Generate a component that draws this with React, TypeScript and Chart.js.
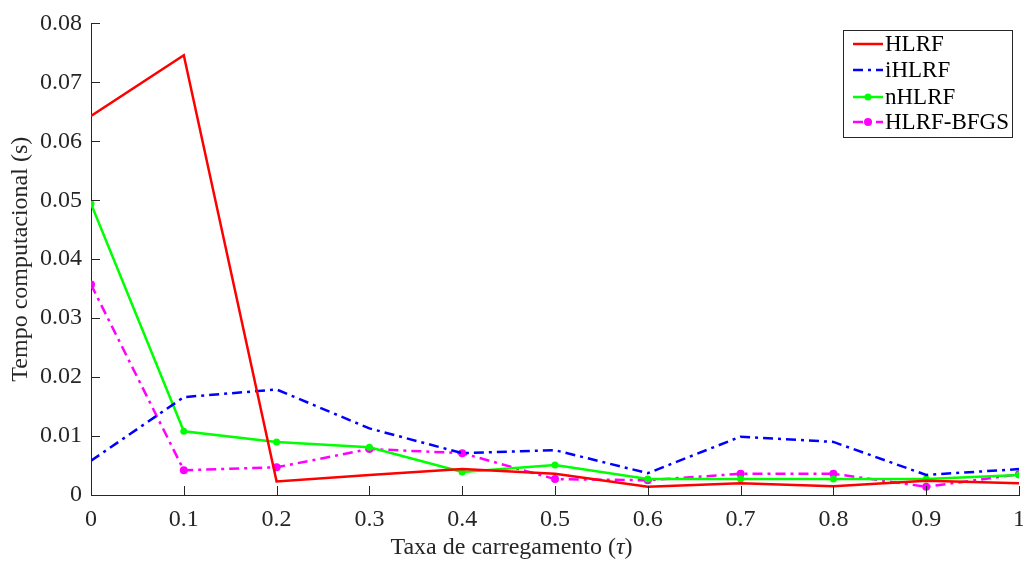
import React, { useEffect, useRef } from "react";
import { Chart, registerables } from "chart.js";

Chart.register(...registerables);

const tau = [0, 0.1, 0.2, 0.3, 0.4, 0.5, 0.6, 0.7, 0.8, 0.9, 1];
const hlrf = [0.0643, 0.0746, 0.0023, 0.0034, 0.0044, 0.0036, 0.0014, 0.002, 0.0015, 0.0024, 0.002];
const ihlrf = [0.0058, 0.0166, 0.0179, 0.0113, 0.0071, 0.0076, 0.0037, 0.0099, 0.009, 0.0034, 0.0044];
const nhlrf = [0.0494, 0.0108, 0.009, 0.0081, 0.0039, 0.0051, 0.0027, 0.0027, 0.0027, 0.0027, 0.0034];
const bfgs = [0.0357, 0.0042, 0.0047, 0.0078, 0.0071, 0.0027, 0.0025, 0.0036, 0.0036, 0.0014, 0.0035];
const xTicks = [0, 0.1, 0.2, 0.3, 0.4, 0.5, 0.6, 0.7, 0.8, 0.9, 1];
const yTicks = [0, 0.01, 0.02, 0.03, 0.04, 0.05, 0.06, 0.07, 0.08];
const seriesNames = ["HLRF", "iHLRF", "nHLRF", "HLRF-BFGS"];
const xTitleParts = ["Taxa de carregamento (", "τ", ")"];
const yTitle = "Tempo computacional (s)";

const FONT = "'Liberation Serif', 'Times New Roman', serif";
const AX = "#262626";
const DASHDOT = [10, 5, 3, 5];

const toPts = (ys: number[]) => tau.map((x, i) => ({ x, y: ys[i] }));

const tickPlugin = {
  id: "inTicks",
  afterDraw(chart: any) {
    const { ctx, chartArea, scales } = chart;
    ctx.save();
    ctx.strokeStyle = AX;
    ctx.lineWidth = 1;
    ctx.beginPath();
    xTicks.forEach((v) => {
      const px = Math.round(scales.x.getPixelForValue(v)) + 0.5;
      ctx.moveTo(px, chartArea.bottom);
      ctx.lineTo(px, chartArea.bottom - 9);
    });
    yTicks.forEach((v) => {
      const py = Math.round(scales.y.getPixelForValue(v)) + 0.5;
      ctx.moveTo(chartArea.left, py);
      ctx.lineTo(chartArea.left + 9, py);
    });
    ctx.stroke();

    // x title with italic tau
    const y = 548;
    ctx.fillStyle = AX;
    ctx.textBaseline = "middle";
    ctx.textAlign = "left";
    const normal = `24px ${FONT}`;
    const italic = `italic 24px ${FONT}`;
    ctx.font = normal;
    const w0 = ctx.measureText(xTitleParts[0]).width;
    const w2 = ctx.measureText(xTitleParts[2]).width;
    ctx.font = italic;
    const w1 = ctx.measureText(xTitleParts[1]).width;
    let x = chart.width / 2 - (w0 + w1 + w2) / 2;
    ctx.font = normal;
    ctx.fillText(xTitleParts[0], x, y);
    x += w0;
    ctx.font = italic;
    ctx.fillText(xTitleParts[1], x, y);
    x += w1;
    ctx.font = normal;
    ctx.fillText(xTitleParts[2], x, y);
    ctx.restore();
  },
};

const legendPlugin = {
  id: "boxLegend",
  afterDraw(chart: any) {
    const { ctx } = chart;
    const bx = 843.5, by = 30.5, bw = 169, bh = 107;
    ctx.save();
    ctx.fillStyle = "#fff";
    ctx.fillRect(bx, by, bw, bh);
    ctx.strokeStyle = AX;
    ctx.lineWidth = 1;
    ctx.strokeRect(bx, by, bw, bh);
    const rows = [44, 70, 97, 122];
    chart.data.datasets.forEach((ds: any, i: number) => {
      const y = rows[i];
      ctx.strokeStyle = ds.borderColor;
      ctx.lineWidth = ds.borderWidth;
      ctx.setLineDash(ds.borderDash || []);
      ctx.beginPath();
      ctx.moveTo(853, y);
      ctx.lineTo(883, y);
      ctx.stroke();
      ctx.setLineDash([]);
      if (ds.pointRadius > 0) {
        ctx.fillStyle = ds.pointBackgroundColor;
        ctx.beginPath();
        ctx.arc(868, y, ds.pointRadius, 0, Math.PI * 2);
        ctx.fill();
      }
      ctx.fillStyle = "#000";
      ctx.font = `23px ${FONT}`;
      ctx.textBaseline = "middle";
      ctx.textAlign = "left";
      ctx.fillText(seriesNames[i], 885, y + 1);
    });
    ctx.restore();
  },
};

export default function App() {
  const ref = useRef<HTMLCanvasElement>(null);
  useEffect(() => {
    const chart = new Chart(ref.current!, {
      type: "line",
      data: {
        datasets: [
          {
            label: seriesNames[0],
            data: toPts(hlrf),
            borderColor: "#ff0000",
            backgroundColor: "#ff0000",
            borderWidth: 2.5,
            pointRadius: 0,
            tension: 0,
          },
          {
            label: seriesNames[1],
            data: toPts(ihlrf),
            borderColor: "#0000ff",
            backgroundColor: "#0000ff",
            borderWidth: 2.5,
            borderDash: DASHDOT,
            pointRadius: 0,
            tension: 0,
          },
          {
            label: seriesNames[2],
            data: toPts(nhlrf),
            borderColor: "#00ff00",
            backgroundColor: "#00ff00",
            pointBackgroundColor: "#00ff00",
            pointBorderColor: "#00ff00",
            borderWidth: 2.5,
            pointRadius: 3.5,
            pointBorderWidth: 0,
            tension: 0,
          },
          {
            label: seriesNames[3],
            data: toPts(bfgs),
            borderColor: "#ff00ff",
            backgroundColor: "#ff00ff",
            pointBackgroundColor: "#ff00ff",
            pointBorderColor: "#ff00ff",
            borderWidth: 2.5,
            borderDash: DASHDOT,
            pointRadius: 4,
            pointBorderWidth: 0,
            tension: 0,
          },
        ],
      },
      options: {
        animation: false,
        responsive: false,
        maintainAspectRatio: false,
        layout: { padding: { top: 22, right: 4, left: 0, bottom: 0 } },
        plugins: { legend: { display: false }, tooltip: { enabled: false } },
        scales: {
          x: {
            type: "linear",
            min: 0,
            max: 1,
            afterBuildTicks: (s: any) => {
              s.ticks = xTicks.map((v) => ({ value: v }));
            },
            afterFit: (s: any) => {
              s.height = 70;
              s.paddingRight = 0;
              s.paddingLeft = 0;
            },
            grid: { display: false, drawTicks: false },
            border: { display: true, color: AX, width: 1 },
            ticks: {
              color: AX,
              font: { family: FONT, size: 24 },
              padding: 10,
              maxRotation: 0,
              callback: (v: any) => String(v),
            },
          },
          y: {
            type: "linear",
            min: 0,
            max: 0.08,
            afterBuildTicks: (s: any) => {
              s.ticks = yTicks.map((v) => ({ value: v }));
            },
            afterFit: (s: any) => {
              s.width = 91;
            },
            grid: { display: false, drawTicks: false },
            border: { display: true, color: AX, width: 1 },
            ticks: {
              color: AX,
              font: { family: FONT, size: 24 },
              padding: 9,
              callback: (v: any) => String(Number(v.toFixed(2))),
            },
            title: {
              display: true,
              text: yTitle,
              color: AX,
              font: { family: FONT, size: 24 },
              padding: { top: 6, bottom: 0 },
            },
          },
        },
      },
      plugins: [tickPlugin, legendPlugin],
    });
    return () => chart.destroy();
  }, []);
  return (
    <div style={{ position: "absolute", left: 0, top: 0, width: 1023, height: 565, background: "#fff" }}>
      <canvas ref={ref} width={1023} height={565} />
    </div>
  );
}
